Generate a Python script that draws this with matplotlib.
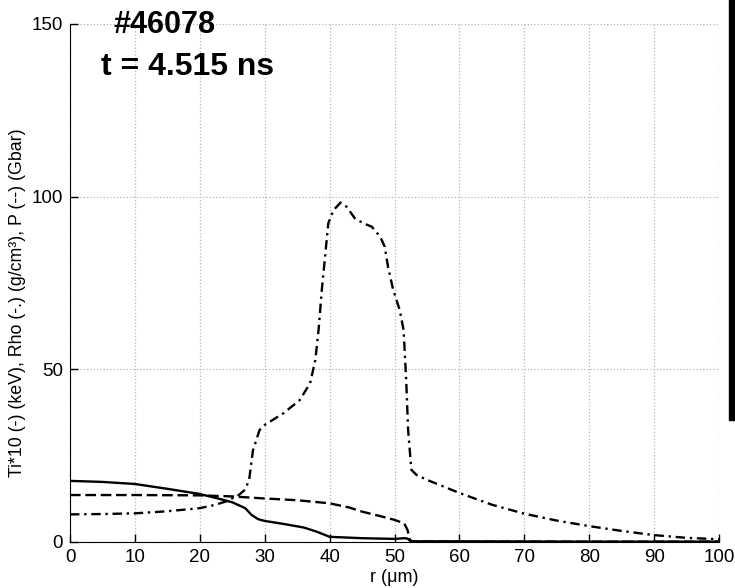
import matplotlib.pyplot as plt
from matplotlib.patches import Rectangle

plt.rcParams['font.family'] = ['Liberation Sans', 'DejaVu Sans']

# Ti*10 (solid)
r_ti = [0, 5, 10, 15, 20, 23, 25, 27, 28, 29, 30, 33, 36, 38, 40, 45, 50, 51.5, 52, 52.5, 60, 70, 80, 90, 100]
ti = [17.7, 17.4, 16.8, 15.4, 13.9, 12.5, 11.5, 9.8, 7.8, 6.6, 6.1, 5.2, 4.2, 3.0, 1.5, 1.1, 0.9, 1.1, 1.0,
      0.2, 0.2, 0.15, 0.1, 0.1, 0.1]

# P (dashed)
r_p = [0, 10, 20, 25, 30, 35, 40, 43, 45, 48, 50, 51.5, 52, 52.4, 53, 100]
p = [13.6, 13.6, 13.5, 13.2, 12.6, 12.1, 11.2, 10.0, 8.8, 7.4, 6.4, 5.4, 3.5, 0.5, 0.1, 0.1]

# Rho (dash-dot)
r_rho = [0, 5, 10, 15, 20, 22, 24, 26, 27, 27.6, 28.2, 29.2, 30, 32.9, 35.4, 37, 37.8, 38.3, 38.8, 39.3,
         39.8, 40.6, 41.7, 42.6, 43.9, 45.2, 46.5, 47.8, 48.5, 49.0, 49.8, 50.8, 51.4, 51.8, 52.1, 52.6,
         53.4, 55, 60, 65, 70, 75, 80, 85, 90, 95, 100]
rho = [8.0, 8.1, 8.3, 8.9, 9.8, 10.6, 11.7, 13.6, 15.2, 18, 26.6, 32.4, 33.9, 37.3, 41.1, 46, 52.7, 61.4,
       73, 82.6, 92.3, 96.1, 98.3, 97.1, 93.7, 92.3, 91.3, 88.4, 85.5, 79.7, 73, 67.2, 61.4, 46.9, 32.4,
       20.9, 19.4, 18.0, 14.2, 10.8, 8.2, 6.2, 4.6, 3.2, 2.0, 1.2, 0.8]

xticks = [0, 10, 20, 30, 40, 50, 60, 70, 80, 90, 100]
yticks = [0, 50, 100, 150]

fig = plt.figure(figsize=(7.35, 5.88), dpi=100)
ax = fig.add_axes([70 / 735, 1 - 542 / 588, 649 / 735, 518 / 588])

ax.plot(r_ti, ti, color='black', lw=1.7, linestyle='-')
ax.plot(r_p, p, color='black', lw=1.7, linestyle=(0, (4.5, 2)))
ax.plot(r_rho, rho, color='black', lw=1.7, linestyle=(0, (4, 2, 1, 2)))

ax.set_xlim(0, 100)
ax.set_ylim(0, 150)
ax.set_xticks(xticks)
ax.set_yticks(yticks)
ax.tick_params(direction='in', length=6, width=1, labelsize=13.5, pad=5)
ax.spines['top'].set_visible(False)
ax.spines['right'].set_visible(False)
ax.grid(True, linestyle=':', color='#b5b5b5', lw=0.9)
ax.set_axisbelow(True)

ax.set_xlabel('r (\u03bcm)', fontsize=13, labelpad=2)
fig.text(18 / 735, 1 - 303 / 588, 'Ti*10 (-) (keV), Rho (-.) (g/cm\u00b3), P (--) (Gbar)',
         rotation=90, ha='center', va='center', fontsize=12.8)

fig.text(113 / 735, 1 - 33 / 588, '#46078', fontsize=22, fontweight='bold', ha='left', va='baseline')
fig.text(101 / 735, 1 - 75 / 588, 't = 4.515 ns', fontsize=23, fontweight='bold', ha='left', va='baseline')

fig.patches.append(Rectangle((729 / 735, 1 - 420 / 588), 6 / 735, 420 / 588,
                             transform=fig.transFigure, color='black', zorder=5))

fig.savefig('out.png', dpi=100)
